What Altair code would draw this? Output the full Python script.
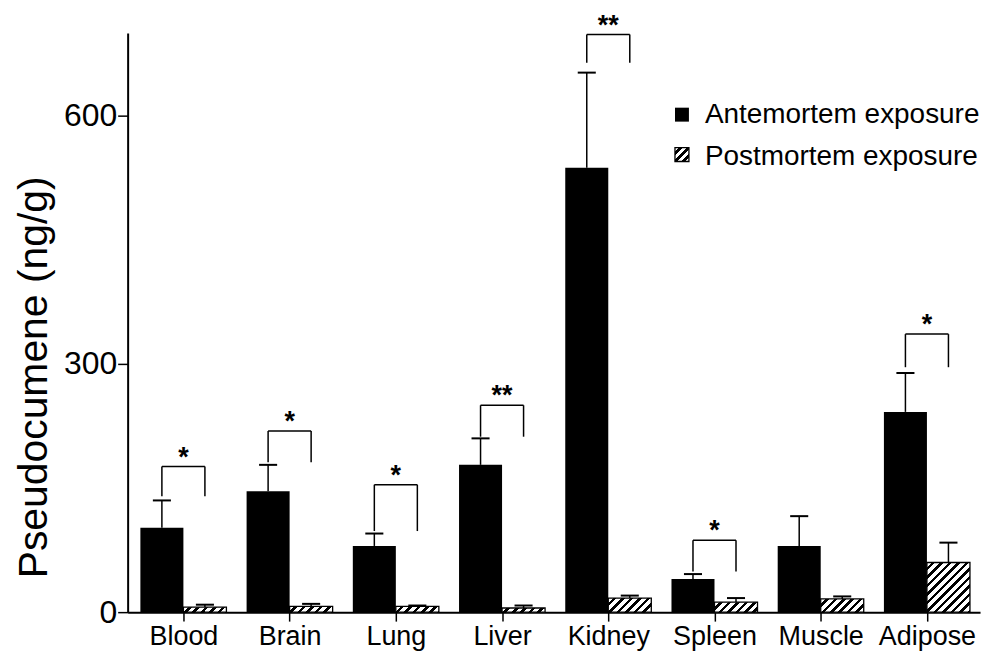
import altair as alt
import pandas as pd

categories = ["Blood", "Brain", "Lung", "Liver", "Kidney", "Spleen", "Muscle", "Adipose"]
ante_mean = [102, 146, 80, 178, 537, 40, 80, 242]
ante_sd = [33, 32, 15, 32, 115, 6, 36, 47]
post_mean = [6, 7, 7, 5, 17, 12, 16, 60]
post_sd = [3, 3, 1, 3, 3, 5, 3, 24]

sig_cats = ["Blood", "Brain", "Lung", "Liver", "Kidney", "Spleen", "Adipose"]
sig_labels = ["*", "*", "*", "**", "**", "*", "*"]
bracket_top = [176, 219, 154, 250, 698, 87, 336]
bracket_bottom = [140, 181, 98, 212, 664, 49, 296]

legend_labels = ["Antemortem exposure", "Postmortem exposure"]
y_ticks = [0, 300, 600]

W, H = 855, 581
XDOM = [-0.525, 7.5]
YDOM = [0, 700]
BW = 0.405
HALF = BW / 2
CAP = 0.085

rows = []
for i, c in enumerate(categories):
    rows.append(dict(cat=c, idx=i, series="ante", x0=i - BW, x1=i, xc=i - HALF,
                     cl=i - HALF - CAP, cr=i - HALF + CAP,
                     mean=ante_mean[i], top=ante_mean[i] + ante_sd[i]))
    rows.append(dict(cat=c, idx=i, series="post", x0=i, x1=i + BW, xc=i + HALF,
                     cl=i + HALF - CAP, cr=i + HALF + CAP,
                     mean=post_mean[i], top=post_mean[i] + post_sd[i]))
df = pd.DataFrame(rows)

brows = []
for c, lab, t, b in zip(sig_cats, sig_labels, bracket_top, bracket_bottom):
    i = categories.index(c)
    brows.append(dict(cat=c, idx=i, xl=i - HALF, xr=i + HALF, top=t, bottom=b, label=lab))
bdf = pd.DataFrame(brows)

label_expr = "[" + ",".join("'%s'" % c for c in categories) + "][datum.value]"

xscale = alt.Scale(domain=XDOM, nice=False, zero=False)
yscale = alt.Scale(domain=YDOM, nice=False, zero=True)
xaxis = alt.Axis(values=list(range(len(categories))), labelExpr=label_expr, title=None,
                 tickSize=9, labelFontSize=27, labelPadding=2, labelFlush=False)
yaxis = alt.Axis(values=y_ticks, title="Pseudocumene (ng/g)", tickSize=10, labelFontSize=32,
                 labelPadding=1, titleFontSize=41, titleFontWeight="normal",
                 titleX=-81, titleY=345, titleBaseline="alphabetic", titleFont="Liberation Sans",
                 titleColor="black")


def X(f):
    return alt.X(f, type="quantitative", scale=xscale, axis=xaxis)


def Y(f):
    return alt.Y(f, type="quantitative", scale=yscale, axis=yaxis)


def hatch(w, h, period=8.5, black_frac=0.42):
    a = (w + h) / (w * w + h * h)
    n = (w + h) / period
    pl = 1.0 / n
    stops = []
    t = 0.0
    while t < 1.0 - 1e-9:
        tw = min(t + pl * (1 - black_frac), 1.0)
        stops.append(alt.GradientStop(offset=round(t, 4), color="white"))
        stops.append(alt.GradientStop(offset=round(tw, 4), color="white"))
        if tw < 1.0:
            tb = min(t + pl, 1.0)
            stops.append(alt.GradientStop(offset=round(tw, 4), color="black"))
            stops.append(alt.GradientStop(offset=round(tb, 4), color="black"))
        t += pl
    return alt.Gradient(gradient="linear", x1=0, y1=0, x2=round(a * w, 4), y2=round(a * h, 4),
                        stops=stops)


base = alt.Chart(df)

black_bars = base.transform_filter("datum.series == 'ante'").mark_rect(
    fill="black", strokeWidth=0
).encode(x=X("x0"), x2="x1", y=Y("mean"), y2=alt.datum(0))

px_per_x = W / (XDOM[1] - XDOM[0])
px_per_y = H / (YDOM[1] - YDOM[0])
bar_w_px = BW * px_per_x

hatched_layers = []
for i, c in enumerate(categories):
    h_px = max(post_mean[i] * px_per_y, 1.0)
    layer = base.transform_filter(
        "datum.series == 'post' && datum.idx == %d" % i
    ).mark_rect(fill=hatch(bar_w_px, h_px), stroke="black", strokeWidth=1.3).encode(
        x=X("x0"), x2="x1", y=Y("mean"), y2=alt.datum(0)
    )
    hatched_layers.append(layer)

err_stem = base.mark_rule(color="black", strokeWidth=1.5).encode(
    x=X("xc"), y=Y("mean"), y2="top"
)
err_cap = base.mark_rule(color="black", strokeWidth=2).encode(
    x=X("cl"), x2="cr", y=Y("top")
)

bbase = alt.Chart(bdf)
br_h = bbase.mark_rule(color="black", strokeWidth=1.5).encode(x=X("xl"), x2="xr", y=Y("top"))
br_l = bbase.mark_rule(color="black", strokeWidth=1.5).encode(x=X("xl"), y=Y("bottom"), y2="top")
br_r = bbase.mark_rule(color="black", strokeWidth=1.5).encode(x=X("xr"), y=Y("bottom"), y2="top")
stars = bbase.mark_text(
    font="Liberation Sans", fontSize=27, fontWeight="bold", color="black",
    baseline="alphabetic", dy=-1
).encode(x=X("idx"), y=Y("top"), text="label:N")

ldf = pd.DataFrame({"label": legend_labels, "row": [0, 1]})
lbase = alt.Chart(ldf)
leg_sq1 = lbase.transform_filter("datum.row == 0").mark_rect(fill="black").encode(
    x=alt.value(549), x2=alt.value(563), y=alt.value(75), y2=alt.value(89)
)
leg_sq2 = lbase.transform_filter("datum.row == 1").mark_rect(
    fill=hatch(14, 14, period=8.0, black_frac=0.45), stroke="black", strokeWidth=1.3
).encode(x=alt.value(549), x2=alt.value(563), y=alt.value(115), y2=alt.value(129))
leg_t1 = lbase.transform_filter("datum.row == 0").mark_text(
    font="Liberation Sans", fontSize=28, color="black", align="left", baseline="alphabetic"
).encode(x=alt.value(579), y=alt.value(90), text="label:N")
leg_t2 = lbase.transform_filter("datum.row == 1").mark_text(
    font="Liberation Sans", fontSize=28, color="black", align="left", baseline="alphabetic"
).encode(x=alt.value(579), y=alt.value(132), text="label:N")

chart = alt.layer(
    black_bars, *hatched_layers, err_stem, err_cap, br_h, br_l, br_r, stars,
    leg_sq1, leg_sq2, leg_t1, leg_t2
).properties(
    width=W, height=H,
    autosize=alt.AutoSizeParams(type="none"),
    padding={"left": 120, "top": 24, "right": 14, "bottom": 38},
).configure_axis(
    domainColor="black", domainWidth=2, tickColor="black", tickWidth=1.5,
    labelColor="black", labelFont="Liberation Sans", grid=False
).configure_view(strokeWidth=0)

chart.save("out.html", embed_options={"renderer": "svg", "actions": False})
